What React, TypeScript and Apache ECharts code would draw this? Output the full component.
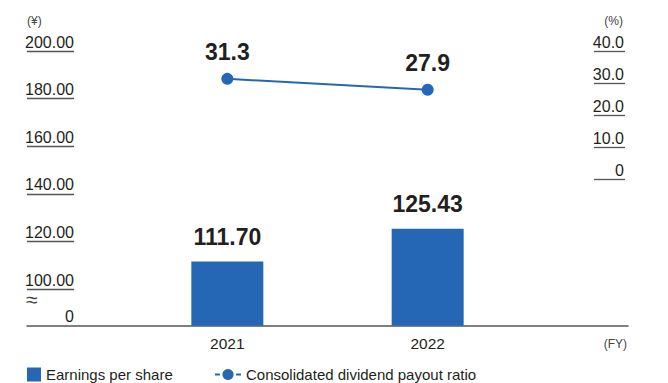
import React, { useEffect, useRef } from "react";
import * as echarts from "echarts";

// ---- data ----
const categories = ["2021", "2022"];
const epsValues = [111.7, 125.43]; // Earnings per share (¥)
const payoutValues = [31.3, 27.9]; // Consolidated dividend payout ratio (%)
const leftTickValues = [100, 120, 140, 160, 180, 200];
const rightTickValues = [0, 10, 20, 30, 40];
const LEFT_BREAK_MIN = 84.73; // baseline of the broken axis, labelled "0"
const LEFT_MAX = 200;
const RIGHT_MIN = -45.84;
const RIGHT_MAX = 40;
const seriesNames = ["Earnings per share", "Consolidated dividend payout ratio"];

const FONT = "'Liberation Sans', Arial, Helvetica, sans-serif";
const BLUE = "#2567b4";
const TEXT = "#231f20";
const RULE = "#555555";

export default function App() {
  const ref = useRef<HTMLDivElement>(null);

  useEffect(() => {
    if (!ref.current) return;
    const chart = echarts.init(ref.current, null, { renderer: "svg" });
    const xData = ["", ...categories, ""];
    const barData = [null, ...epsValues, null];
    const lineData = [null, ...payoutValues, null];

    chart.setOption({
      animation: false,
      backgroundColor: "#ffffff",
      grid: { left: 27, right: 40, top: 51, bottom: 57.3, containLabel: false },
      xAxis: {
        type: "category",
        data: xData,
        boundaryGap: false,
        axisLine: { show: true, onZero: false, lineStyle: { color: RULE, width: 1.5 } },
        axisTick: { show: false },
        axisLabel: {
          margin: 10,
          fontFamily: FONT,
          fontSize: 15.5,
          color: TEXT,
          interval: 0,
        },
        splitLine: { show: false },
      },
      yAxis: [
        {
          type: "value",
          position: "left",
          min: LEFT_BREAK_MIN,
          max: LEFT_MAX,
          name: "(¥)",
          nameLocation: "end",
          nameGap: 24,
          nameTextStyle: { align: "left", fontFamily: FONT, fontSize: 12, color: "#444" },
          axisLine: { show: false },
          splitLine: { show: false },
          axisTick: {
            show: true,
            inside: true,
            length: 47,
            customValues: leftTickValues,
            lineStyle: { color: RULE, width: 1.3 },
          },
          axisLabel: {
            inside: true,
            align: "right",
            verticalAlign: "bottom",
            margin: 47,
            padding: [0, 0, 1, 0],
            customValues: [LEFT_BREAK_MIN, ...leftTickValues],
            formatter: (v: number) => (v < 90 ? "0" : v.toFixed(2)),
            fontFamily: FONT,
            fontSize: 16,
            color: TEXT,
          },
        },
        {
          type: "value",
          position: "right",
          offset: -3,
          min: RIGHT_MIN,
          max: RIGHT_MAX,
          name: "(%)",
          nameLocation: "end",
          nameGap: 24,
          nameTextStyle: { align: "right", fontFamily: FONT, fontSize: 12, color: "#444", padding: [0, 2, 0, 0] },
          axisLine: { show: false, onZero: false },
          splitLine: { show: false },
          axisTick: {
            show: true,
            inside: true,
            length: 31,
            customValues: rightTickValues,
            lineStyle: { color: RULE, width: 1.3 },
          },
          axisLabel: {
            inside: true,
            align: "right",
            verticalAlign: "bottom",
            margin: 1,
            padding: [0, 0, 1, 0],
            customValues: rightTickValues,
            formatter: (v: number) => (v === 0 ? "0" : v.toFixed(1)),
            fontFamily: FONT,
            fontSize: 16,
            color: TEXT,
          },
        },
      ],
      legend: [
        {
          data: [seriesNames[0]],
          left: 27,
          top: 367,
          padding: 0,
          itemWidth: 14,
          itemHeight: 14,
          icon: "rect",
          textStyle: { fontFamily: FONT, fontSize: 15, color: TEXT },
        },
        {
          data: [
            {
              name: seriesNames[1],
              lineStyle: { type: [5, 16], width: 2 },
            },
          ],
          left: 214,
          top: 367,
          padding: 0,
          itemWidth: 26,
          itemHeight: 14,
          textStyle: { fontFamily: FONT, fontSize: 15, color: TEXT },
        },
      ],
      graphic: [
        {
          type: "text",
          left: 26,
          top: 289,
          style: { text: "≈", font: `21px ${FONT}`, fill: "#444" },
        },
        {
          type: "text",
          right: 41,
          top: 338,
          style: { text: "(FY)", font: `12px ${FONT}`, fill: "#444" },
        },
      ],
      series: [
        {
          name: seriesNames[0],
          type: "bar",
          data: barData,
          barWidth: 72,
          itemStyle: { color: BLUE },
          label: {
            show: true,
            position: "top",
            distance: 13,
            formatter: (p: any) => Number(p.value).toFixed(2),
            fontFamily: FONT,
            fontWeight: "bold",
            fontSize: 23,
            color: TEXT,
          },
        },
        {
          name: seriesNames[1],
          type: "line",
          yAxisIndex: 1,
          data: lineData,
          symbol: "circle",
          symbolSize: 12,
          itemStyle: { color: BLUE },
          lineStyle: { color: BLUE, width: 2 },
          label: {
            show: true,
            position: "top",
            distance: 9,
            formatter: (p: any) => Number(p.value).toFixed(1),
            fontFamily: FONT,
            fontWeight: "bold",
            fontSize: 23,
            color: TEXT,
          },
        },
      ],
    });

    return () => chart.dispose();
  }, []);

  return <div ref={ref} style={{ width: 668, height: 383, position: "absolute", left: 0, top: 0 }} />;
}
